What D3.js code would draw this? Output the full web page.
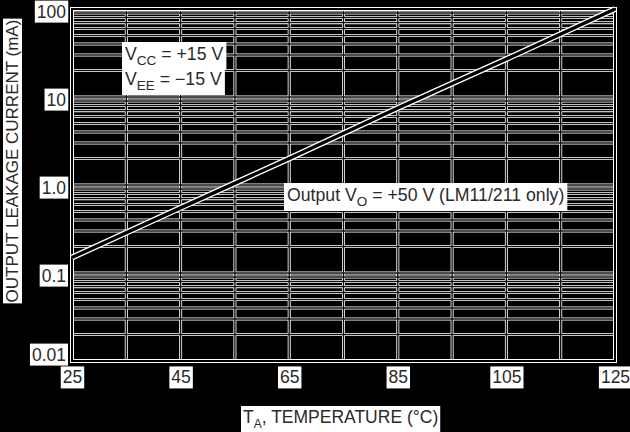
<!DOCTYPE html>
<html><head><meta charset="utf-8">
<script src="https://cdn.jsdelivr.net/npm/d3@7"></script>
<style>
html,body{margin:0;padding:0;background:#000;}
svg{display:block;font-family:"Liberation Sans",Arial,sans-serif;}
</style></head>
<body>
<svg id="c" width="630" height="432"></svg>
<script>
// Data
const temperatures = [25, 45, 65, 85, 105, 125];          // °C
const leakage = [0.15, 0.55, 2.0, 7.5, 27, 100];          // mA
const xTicks = [25, 45, 65, 85, 105, 125];
const xGrid = [25, 35, 45, 55, 65, 75, 85, 95, 105, 115, 125];
const yTicks = [0.01, 0.1, 1, 10, 100];
const yTickLabels = ["0.01", "0.1", "1.0", "10", "100"];
const yDecades = [0.01, 0.1, 1, 10];
const yMinor = [1, 2, 3, 4, 5, 6, 7, 8, 9];

const svg = d3.select("#c");
const L = 72, R = 615, T = 9, B = 361;
const x = d3.scaleLinear().domain([25, 125]).range([L, R]);
const y = d3.scaleLog().domain([0.01, 100]).range([B, T]);

const gridH = [];
yDecades.forEach(d => yMinor.forEach(m => gridH.push(d * m)));
gridH.push(100);

const g = svg.append("g");
function drawGrid(color, w) {
  g.selectAll(null).data(gridH).enter().append("line")
    .attr("x1", L).attr("x2", R)
    .attr("y1", d => y(d)).attr("y2", d => y(d))
    .attr("stroke", color).attr("stroke-width", w);
  g.selectAll(null).data(xGrid).enter().append("line")
    .attr("y1", T).attr("y2", B)
    .attr("x1", d => x(d)).attr("x2", d => x(d))
    .attr("stroke", color).attr("stroke-width", w);
}
drawGrid("#fff", 3);
drawGrid("#111", 1.4);
g.append("rect").attr("x", L).attr("y", T).attr("width", R - L).attr("height", B - T)
  .attr("fill", "none").attr("stroke", "#fff").attr("stroke-width", 4);
g.append("rect").attr("x", L).attr("y", T).attr("width", R - L).attr("height", B - T)
  .attr("fill", "none").attr("stroke", "#000").attr("stroke-width", 2);

const line = d3.line().x((d, i) => x(temperatures[i])).y(d => y(d));
g.append("path").datum(leakage).attr("d", line)
  .attr("fill", "none").attr("stroke", "#fff").attr("stroke-width", 6);
g.append("path").datum(leakage).attr("d", line)
  .attr("fill", "none").attr("stroke", "#000").attr("stroke-width", 3.4);

const FONT = "'Liberation Sans',Arial,sans-serif";
const textFill = "#2a2a2a";

function boxBehind(sel, pad) {
  sel.each(function () {
    const b = this.getBBox();
    const parent = this.parentNode;
    const r = document.createElementNS("http://www.w3.org/2000/svg", "rect");
    r.setAttribute("x", b.x - pad);
    r.setAttribute("y", b.y - pad + 1);
    r.setAttribute("width", b.width + 2 * pad);
    r.setAttribute("height", b.height + 2 * pad - 2);
    r.setAttribute("fill", "#fff");
    const tr = this.getAttribute("transform");
    if (tr) r.setAttribute("transform", tr);
    parent.insertBefore(r, this);
  });
}

const yAxis = d3.axisLeft(y).tickValues(yTicks).tickSize(0).tickPadding(0)
  .tickFormat((d, i) => yTickLabels[i]);
const ya = svg.append("g").attr("transform", `translate(${L - 6},0)`).call(yAxis);
ya.select(".domain").remove();
ya.selectAll(".tick").attr("transform", d => `translate(0,${Math.min(Math.max(y(d) + 3, 12), 355)})`);
ya.selectAll("text").attr("fill", textFill).style("font-size", "17.5px").style("font-family", FONT);
boxBehind(ya.selectAll("text"), 2);

const xAxis = d3.axisBottom(x).tickValues(xTicks).tickSize(0).tickPadding(0);
const xa = svg.append("g").attr("transform", `translate(0,${B + 10})`).call(xAxis);
xa.select(".domain").remove();
xa.selectAll("text").attr("fill", textFill).style("font-size", "17.5px").style("font-family", FONT);
boxBehind(xa.selectAll("text"), 2);

const xt = svg.append("text").attr("x", 243).attr("y", 423)
  .attr("fill", textFill).style("font-size", "17.5px");
xt.append("tspan").text("T");
xt.append("tspan").attr("dy", 5).style("font-size", "12px").text("A");
xt.append("tspan").attr("dy", -5).text(", TEMPERATURE (°C)");
boxBehind(xt, 2);

const yt = svg.append("text")
  .attr("transform", "translate(18,161) rotate(-90)")
  .attr("text-anchor", "middle").attr("fill", textFill)
  .style("font-size", "17px").text("OUTPUT LEAKAGE CURRENT (mA)");
boxBehind(yt, 1);

function sub(x0, y0, main, s, rest) {
  const t = svg.append("text").attr("x", x0).attr("y", y0)
    .attr("fill", textFill).style("font-size", "17.7px");
  t.append("tspan").text(main);
  t.append("tspan").attr("dy", 5).style("font-size", "13.5px").text(s);
  t.append("tspan").attr("dy", -5).text(rest);
  boxBehind(t, 3);
}
sub(125, 60, "V", "CC", " = +15 V");
sub(125, 85, "V", "EE", " = \u221215 V");
sub(287, 201, "Output V", "O", " = +50 V (LM11/211 only)");
</script>
</body></html>
